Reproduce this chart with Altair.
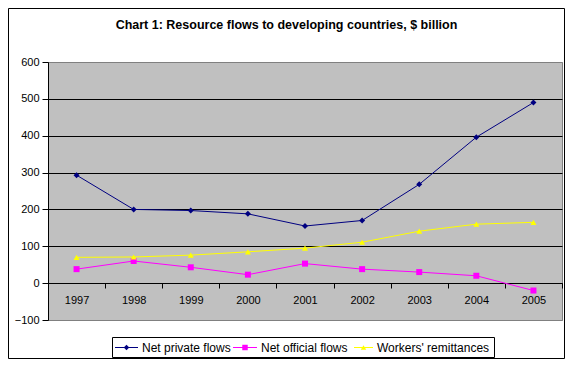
import altair as alt
import pandas as pd

years = ["1997", "1998", "1999", "2000", "2001", "2002", "2003", "2004", "2005"]
net_private = [293, 200, 197, 188, 155, 170, 268, 396, 490]
net_official = [38, 60, 43, 23, 53, 38, 30, 20, -20]
remittances = [70, 71, 76, 85, 95, 111, 141, 160, 165]
series_names = ["Net private flows", "Net official flows", "Workers' remittances"]
series_colors = ["#000080", "#FF00FF", "#FFFF00"]
series_shapes = ["diamond", "square", "triangle-up"]
title_text = "Chart 1: Resource flows to developing countries, $ billion"
y_ticks = [-100, 0, 100, 200, 300, 400, 500, 600]

rows = []
for name, vals in zip(series_names, [net_private, net_official, remittances]):
    for yr, v in zip(years, vals):
        rows.append({"year": yr, "value": v, "series": name})
df = pd.DataFrame(rows)

FONT = "Liberation Sans"

x_enc = alt.X(
    "year:O",
    sort=years,
    scale=alt.Scale(type="band", paddingInner=0, paddingOuter=0),
    axis=alt.Axis(
        title=None, orient="bottom", offset=-37, domainColor="black",
        tickColor="black", tickSize=5, tickBand="extent", labelPadding=6,
        labelFont=FONT, labelFontSize=11, labelColor="black", labelAngle=0,
        grid=False,
    ),
)
y_enc = alt.Y(
    "value:Q",
    scale=alt.Scale(domain=[-100, 600], nice=False, zero=False),
    axis=alt.Axis(
        title=None, values=y_ticks, domainColor="black", tickColor="black",
        tickSize=6, labelPadding=3, labelFont=FONT, labelFontSize=11,
        labelColor="black",
        grid=True,
        gridColor=alt.condition("datum.value == 600 || datum.value == -100",
                                alt.value("#808080"), alt.value("black")),
        gridWidth=1,
    ),
)
color_enc = alt.Color("series:N", scale=alt.Scale(domain=series_names, range=series_colors), legend=None)
shape_enc = alt.Shape("series:N", scale=alt.Scale(domain=series_names, range=series_shapes), legend=None)

base = alt.Chart(df)

lines = base.mark_line(strokeWidth=1).encode(x=x_enc, y=y_enc, color=color_enc, detail="series:N")
points = base.mark_point(filled=True, size=36, opacity=1).encode(
    x=x_enc, y=y_enc, color=color_enc, shape=shape_enc)

one = pd.DataFrame({"a": [0]})
deco = alt.Chart(one)

outer = deco.mark_rect(fillOpacity=0, stroke="black", strokeWidth=1).encode(
    x=alt.value(-39.5), x2=alt.value(516.5), y=alt.value(-53.5), y2=alt.value(296.5))

title = deco.mark_text(text=title_text, font=FONT, fontSize=12.5, fontWeight="bold",
                       color="black", align="center", baseline="middle").encode(
    x=alt.value(238.5), y=alt.value(-37.5))

legend_box = deco.mark_rect(fillOpacity=0, stroke="black", strokeWidth=1).encode(
    x=alt.value(64.5), x2=alt.value(446.5), y=alt.value(275.5), y2=alt.value(295.5))

legend_layers = [outer, legend_box, title]
leg_x = [67, 185, 306]
leg_w = [23, 24, 19]
for i, name in enumerate(series_names):
    x0 = leg_x[i]
    x1 = x0 + leg_w[i]
    legend_layers.append(
        deco.mark_rule(color=series_colors[i], strokeWidth=1).encode(
            x=alt.value(x0), x2=alt.value(x1), y=alt.value(285.5)))
    legend_layers.append(
        deco.mark_point(filled=True, size=30, opacity=1, shape=series_shapes[i],
                        color=series_colors[i]).encode(
            x=alt.value((x0 + x1) / 2), y=alt.value(285.5)))
    legend_layers.append(
        deco.mark_text(text=name, font=FONT, fontSize=12, color="black",
                       align="left", baseline="middle").encode(
            x=alt.value(x1 + 4), y=alt.value(286)))

chart = alt.layer(*legend_layers, lines, points).properties(
    width=514, height=258,
    autosize=alt.AutoSizeParams(type="none"),
    padding={"left": 40, "top": 54, "right": 3, "bottom": 39},
    background="white",
).configure_view(fill="#C0C0C0", stroke="#808080", strokeWidth=1)

chart.save("out.html", embed_options={"renderer": "svg", "actions": False})
